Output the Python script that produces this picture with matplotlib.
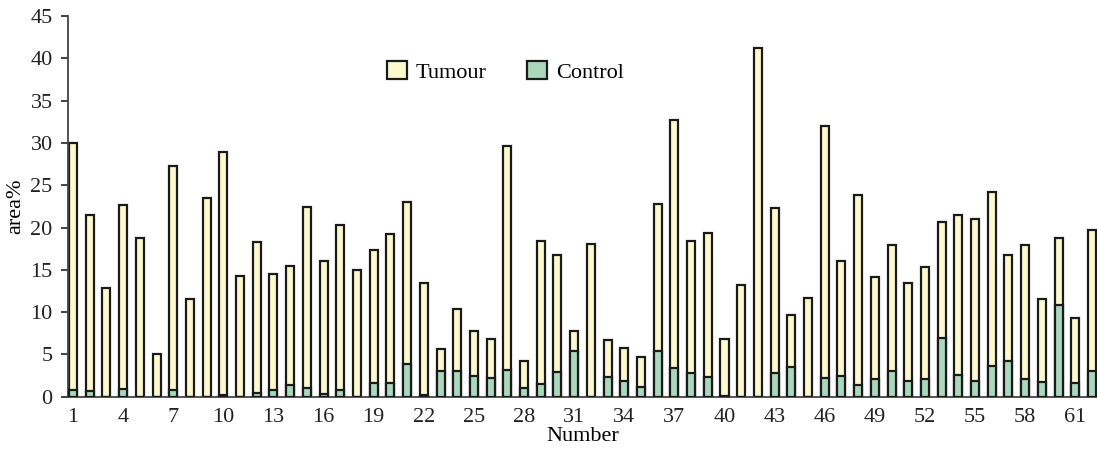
import matplotlib.pyplot as plt
import numpy as np

numbers = list(range(1, 63))
tumour = [30.0, 21.5, 12.9, 22.6, 18.8, 5.0, 27.3, 11.6, 23.5, 28.9,
          14.3, 18.3, 14.5, 15.5, 22.4, 16.1, 20.3, 15.0, 17.4, 19.2,
          23.0, 13.4, 5.6, 10.4, 7.8, 6.8, 29.6, 4.2, 18.4, 16.7,
          7.8, 18.0, 6.7, 5.8, 4.7, 22.8, 32.7, 18.4, 19.3, 6.8,
          13.2, 41.2, 22.3, 9.7, 11.7, 32.0, 16.1, 23.8, 14.2, 17.9,
          13.5, 15.3, 20.6, 21.5, 21.0, 24.2, 16.7, 17.9, 11.6, 18.8,
          9.3, 19.7]
control = [0.85, 0.7, 0.0, 0.9, 0.0, 0.0, 0.8, 0.0, 0.0, 0.2,
           0.0, 0.4, 0.8, 1.4, 1.0, 0.3, 0.8, 0.0, 1.6, 1.6,
           3.9, 0.2, 3.0, 3.0, 2.5, 2.2, 3.2, 1.1, 1.5, 2.9,
           5.4, 0.0, 2.4, 1.9, 1.2, 5.4, 3.4, 2.8, 2.3, 0.15,
           0.0, 0.0, 2.8, 3.5, 0.0, 2.2, 2.5, 1.4, 2.1, 3.1,
           1.9, 2.1, 6.9, 2.6, 1.9, 3.6, 4.2, 2.1, 1.7, 10.8,
           1.6, 3.1]
xticks = list(range(1, 63, 3))

plt.rcParams['font.family'] = ['Liberation Serif', 'DejaVu Serif']

fig = plt.figure(figsize=(10.97, 4.53), dpi=100)
ax = fig.add_axes([0.062, 0.124, 0.938, 0.841])

x = np.array(numbers)
w = 0.48
ax.bar(x, tumour, width=w, color='#fdf9cf', edgecolor='#1a1a1a', linewidth=1.6, label='Tumour', zorder=2)
ax.bar(x, control, width=w, color='#a9d8bb', edgecolor='#1a1a1a', linewidth=1.6, label='Control', zorder=3)

ax.set_xlim(0.7, 62.3)
ax.set_ylim(0, 45)
ax.set_yticks(range(0, 46, 5))
ax.set_xticks(xticks)
ax.tick_params(axis='both', labelsize=16, colors='#222222', length=5, width=1.2)
ax.tick_params(axis='x', length=0, pad=8)
ax.tick_params(axis='y', pad=6)
for s in ['top', 'right']:
    ax.spines[s].set_visible(False)
for s in ['left', 'bottom']:
    ax.spines[s].set_color('#444444')
    ax.spines[s].set_linewidth(1.3)

ax.set_xlabel('Number', fontsize=16, labelpad=0)
ax.set_ylabel('area%', fontsize=16, labelpad=4)

ax.legend(loc='upper center', bbox_to_anchor=(0.425, 0.935), ncol=2, frameon=False,
          fontsize=16, handlelength=0.9, handleheight=0.9, columnspacing=1.8, handletextpad=0.4)

fig.savefig('out.png', dpi=100)
